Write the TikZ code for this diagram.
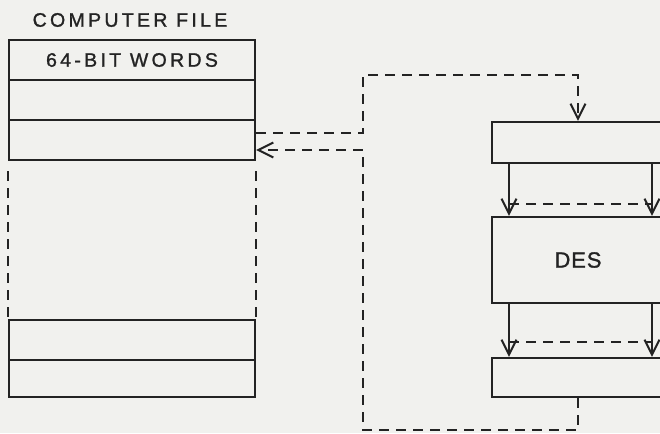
\documentclass[tikz,border=0pt]{standalone}
\usepackage{fontspec}
\setmainfont{Liberation Sans}
\usetikzlibrary{arrows.meta,calc}
\definecolor{bg}{RGB}{241,241,238}
\definecolor{ink}{RGB}{35,35,35}
\tikzset{
  cell/.style={draw=ink, line width=2.2pt, rectangle, inner sep=0pt},
  filerow/.style={cell, minimum width=246pt},
  dbox/.style={cell, minimum width=172pt},
  dsh/.style={draw=ink, line width=2pt, dash pattern=on 10pt off 7pt},
  sol/.style={draw=ink, line width=2pt},
  vtip/.style={-{Straight Barb[length=15pt,width=15pt,line width=2pt]}},
  lbl/.style={font=\fontsize{19.5pt}{22pt}\selectfont\addfontfeatures{LetterSpace=17,FakeBold=1.2}, text=ink}
}
\begin{document}
\begin{tikzpicture}[x=1pt,y=-1pt]
\fill[bg] (0,0) rectangle (660,433);
\useasboundingbox (0,0) rectangle (660,433);
\clip (0,0) rectangle (660,433);
% computer file
\node[lbl] (title) at (130,20) {COMPUTER FILE};
\node[filerow, minimum height=40pt] (r1) at (132,60) {};
\node[lbl] (words) at (132,60) {64-BIT WORDS};
\node[filerow, minimum height=40pt] (r2) at (132,100) {};
\node[filerow, minimum height=40pt] (r3) at (132,140) {};
\node[filerow, minimum height=40pt] (r4) at (132,340) {};
\node[filerow, minimum height=37pt] (r5) at (132,378.5) {};
\draw[dsh] ([yshift=-10pt]r3.south west) -- ([yshift=2pt]r4.north west);
\draw[dsh] ([yshift=-10pt]r3.south east) -- ([yshift=2pt]r4.north east);
% DES side
\node[dbox, minimum height=41pt] (top) at (578,142.5) {};
\node[dbox, minimum height=86pt] (des) at (578,260) {};
\node[text=ink, font=\fontsize{22pt}{24pt}\selectfont\addfontfeatures{LetterSpace=4,FakeBold=1.2}] (deslbl) at (578,260) {DES};
\node[dbox, minimum height=39pt] (bot) at (578,377.5) {};
% arrows between DES boxes
\coordinate (la) at (509,0);
\coordinate (ra) at (652,0);
\draw[sol,vtip] (la |- top.south) -- (la |- des.north);
\draw[sol,vtip] (ra |- top.south) -- (ra |- des.north);
\draw[dsh] (la |- 0,204) -- (ra |- 0,204);
\draw[sol,vtip] (la |- des.south) -- (la |- bot.north);
\draw[sol,vtip] (ra |- des.south) -- (ra |- bot.north);
\draw[dsh] (la |- 0,342) -- (ra |- 0,342);
% loops
\coordinate (c1) at (363,75);
\coordinate (c2) at (363,430);
\draw[dsh,vtip] ([yshift=7pt]r3.east) -| (c1) -| (top.north);
\draw[dsh,vtip] (bot.south) |- (c2) |- ([yshift=-10pt]r3.east);
\end{tikzpicture}
\end{document}
